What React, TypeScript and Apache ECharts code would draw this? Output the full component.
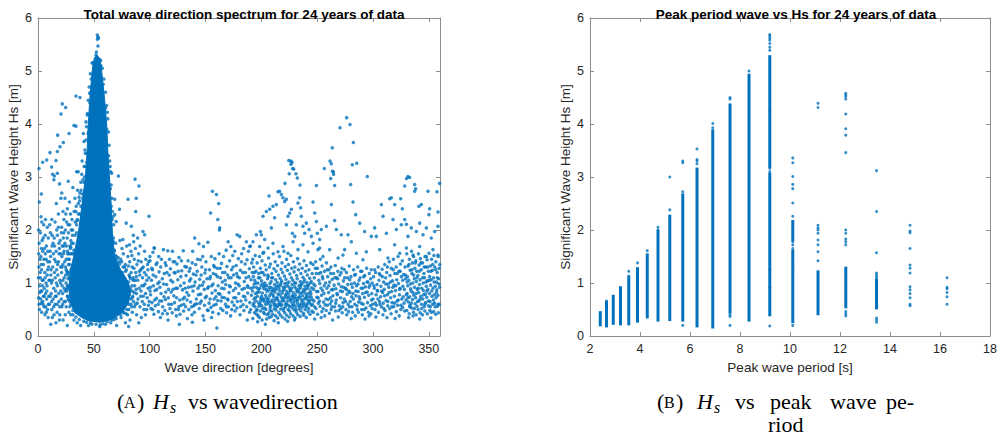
import React, { useEffect, useRef } from 'react';
import * as echarts from 'echarts';

const BLUE = '#0072BD';
const BOX = '#8c8c8c';
const TXT = '#262626';

// ---------- Left chart: Hs vs wave direction ----------
const leftTitle = 'Total wave direction spectrum for 24 years of data';
const leftXName = 'Wave direction [degrees]';
const yName = 'Significant Wave Height Hs [m]';

// dense core of the cloud (outline, [degrees, Hs])
const coreOutline: [number, number][] = [
  [55, 0.26], [45, 0.29], [39, 0.35], [33, 0.44], [29.5, 0.6], [28, 0.8], [28, 1.0], [29, 1.25],
  [32, 1.5], [36.5, 2.0], [39.5, 2.5], [42.5, 3.0], [44, 3.5], [45, 4.0], [46.5, 4.5], [48.5, 5.0],
  [50.5, 5.25], [53, 5.3], [55.5, 5.22], [57, 5.0], [59.5, 4.5], [61.5, 4.0], [62.5, 3.5], [64, 3.0],
  [65.5, 2.5], [66.5, 2.0], [68.5, 1.5], [74, 1.25], [80, 1.05], [83, 0.85], [81, 0.62], [76, 0.46],
  [70, 0.36], [63, 0.29],
];

const coreEdge = [
  28.5, 0.55, 26.5, 0.75, 26.2, 0.95, 27.1, 1.15, 28.1, 1.35, 30.5, 1.55, 31.6, 1.75, 33.2, 1.9,
  34.5, 2.1, 36.1, 2.3, 37.4, 2.55, 38.6, 2.75, 40.2, 2.95, 41.3, 3.2, 42.3, 3.45, 42.9, 3.7,
  43.4, 3.95, 44.2, 4.2, 45, 4.45, 45.8, 4.7, 46.9, 4.95, 48.4, 5.15, 27.6, 0.68, 26.9, 1.08,
  32.1, 1.62, 35.3, 2.18, 39.8, 2.68, 43.6, 3.28, 44.8, 3.82, 46.2, 4.58, 25.4, 0.88, 25.9, 1.22,
  27.2, 1.45, 29.4, 1.68, 30.8, 1.9, 33.9, 2.35, 36.8, 2.62,
  84.5, 0.72, 84.2, 0.95, 82.1, 1.12, 78.5, 1.22, 73.1, 1.36, 70.2, 1.45, 68.4, 1.6, 67.5, 1.85,
  67.8, 2.1, 66.6, 2.35, 66.2, 2.6, 65.5, 2.85, 65.1, 3.1, 64.2, 3.3, 63.7, 3.6, 63.1, 3.85,
  62.6, 4.1, 61.4, 4.35, 60.5, 4.6, 59, 4.85, 57.6, 5.05, 56.2, 5.2, 83.3, 0.6, 76.2, 1.3,
  69.3, 1.52, 67.1, 2.25, 64.6, 3.2, 62.1, 4.22, 86.1, 0.82, 85.4, 1.05, 81.3, 0.5, 78.9, 0.42,
  71.8, 1.48, 74.9, 1.4, 69.6, 1.75,
  34, 0.36, 37, 0.31, 41, 0.28, 47, 0.25, 52, 0.22, 58, 0.23, 62, 0.27, 66, 0.3, 70, 0.33,
  74, 0.4, 77, 0.44, 43.5, 0.26, 55.6, 0.21, 68.2, 0.31, 31.2, 0.48, 79.5, 0.5,
];

const spikeTop = [
  53.1, 5.68, 53.6, 5.64, 54.2, 5.62, 53.2, 5.6, 53.7, 5.47, 52.3, 5.36, 51.9, 5.3, 50, 5.12,
  49.4, 5.16, 56.4, 5.1, 55, 5.22, 47.6, 4.85, 58.4, 4.75, 46.5, 4.4, 60.5, 4.3, 45.3, 3.85,
  61.6, 3.9, 44.2, 3.45, 63.2, 3.4, 41.6, 3.0, 64.8, 2.78, 65.6, 2.45, 66.4, 2.2, 67.6, 1.78,
  68.3, 1.62, 39.5, 3.3, 41, 2.9, 40, 2.6, 42.5, 3.2, 37.5, 2.7, 38.4, 2.45, 35.2, 2.2,
];

const westPoints = [
  1.2, 2.53, 3.4, 2.15, 5.1, 2.1, 8.3, 2.05, 2.2, 1.95, 6.4, 1.9, 9.2, 1.85, 1.1, 1.75,
  4.3, 1.6, 7.5, 1.7, 2.6, 1.5, 5.3, 1.45, 8.7, 1.4, 0.8, 1.3, 3.2, 1.25, 6.1, 1.2, 9.5, 1.3,
  2.1, 1.1, 4.6, 1.05, 7.2, 1.0, 1.4, 0.95, 5.6, 0.9, 8.1, 0.95, 3.5, 0.85, 6.8, 0.8, 9.6, 0.75,
  2.4, 0.7, 4.2, 0.65, 7.7, 0.7, 0.9, 0.6, 5.4, 0.55, 8.5, 0.5, 3.3, 0.45, 6.2, 0.4, 9.1, 0.35,
  2.8, 1.35, 6.6, 1.55, 3.7, 1.8, 0.5, 2.0, 8.2, 1.15, 4.1, 0.95, 7.4, 0.45, 10.2, 0.6,
  3.0, 2.68, 0.9, 3.16, 1.6, 0.82, 0.6, 0.72, 2.9, 0.62, 1.9, 1.2, 5.8, 1.65, 4.8, 0.75,
  13.1, 3.05, 14.2, 2.95, 19.3, 2.87, 12.4, 2.2, 15.3, 2.15, 18.2, 2.05, 11.1, 1.95, 14.5, 1.85,
  17.4, 1.9, 19.8, 1.8, 12.6, 1.7, 16.2, 1.6, 19.1, 1.65, 11.3, 1.5, 14.8, 1.45, 18.4, 1.4,
  13.2, 1.3, 16.7, 1.25, 20.3, 1.3, 11.5, 1.15, 15.4, 1.1, 19.6, 1.05, 12.1, 1.0, 17.3, 0.95,
  14.1, 0.9, 20.4, 0.85, 11.8, 0.8, 16.3, 0.75, 13.6, 0.7, 18.7, 0.65, 15.2, 0.6, 12.3, 0.5,
  19.4, 0.55, 17.1, 0.45, 14.4, 0.4, 16.1, 0.25, 19.2, 0.3, 11.4, 0.22, 13.8, 1.55, 17.6, 1.35,
  15.7, 0.85, 20.1, 1.55, 18.3, 2.3, 16.4, 2.5, 20.5, 2.6, 12.8, 0.35, 10.6, 1.05, 10.9, 1.6,
  21.3, 2.7, 24.2, 2.6, 27.1, 2.92, 28.2, 2.53, 26.3, 2.4, 22.4, 2.35, 29.1, 2.3, 23.2, 2.2,
  25.6, 2.15, 28.4, 2.1, 21.2, 2.05, 24.5, 2.0, 27.3, 1.95, 22.6, 1.85, 26.1, 1.85, 29.4, 1.8,
  21.7, 1.7, 24.1, 1.75, 28.6, 1.7, 23.3, 1.6, 26.5, 1.6, 29.2, 1.55, 21.4, 1.5, 25.2, 1.45,
  28.1, 1.45, 22.2, 1.35, 27.4, 1.35, 24.6, 1.3, 29.6, 1.25, 21.1, 1.2, 26.2, 1.2, 23.5, 1.1,
  28.3, 1.1, 25.1, 1.0, 21.6, 0.95, 27.2, 0.95, 24.3, 0.85, 29.5, 0.85, 22.1, 0.8, 26.4, 0.75,
  23.4, 0.65, 28.5, 0.65, 25.3, 0.55, 21.3, 0.55, 27.6, 0.45, 24.4, 0.4, 29.3, 0.4, 22.5, 0.3,
  26.2, 0.2, 25.4, 1.7, 23.1, 1.95, 29.8, 2.0, 22.3, 1.05, 27.8, 1.55, 24.8, 1.15, 26.6, 0.9,
  31.2, 2.8, 33.1, 2.6, 35.4, 2.75, 34.2, 2.45, 32.3, 2.35, 36.1, 2.5, 38.3, 2.9, 37.2, 2.3,
  30.4, 2.2, 33.4, 2.15, 31.1, 2.0, 39.2, 3.05, 32.2, 0.3, 35.1, 0.25, 38.2, 0.2, 31.3, 0.4,
  45.2, 0.2, 55.3, 0.18, 60.4, 0.22, 65.1, 0.25, 48.3, 0.22, 30.2, 1.75, 31.6, 1.55, 34.5, 1.95,
  0.4, 1.1, 1.3, 0.5, 1.8, 1.45, 2.5, 0.85, 3.1, 1.65, 3.8, 1.05, 4.5, 0.6, 4.9, 1.35,
  5.6, 0.75, 6.3, 1.1, 6.9, 0.55, 7.3, 1.45, 7.9, 0.85, 8.6, 1.25, 9.3, 0.6, 9.8, 1.05,
  10.4, 1.4, 10.9, 0.75, 11.6, 1.25, 12.2, 0.65, 12.9, 1.05, 13.5, 1.75, 14.1, 0.55, 14.7, 1.2,
  15.4, 0.75, 15.9, 1.4, 16.5, 1.0, 17.2, 0.6, 17.8, 1.15, 18.5, 0.8, 18.9, 1.55, 19.5, 0.4,
  20.2, 1.0, 20.8, 0.7, 21.5, 1.3, 22.1, 0.6, 22.8, 1.55, 23.4, 0.9, 23.9, 1.4, 24.6, 0.65,
  25.2, 1.25, 25.8, 0.85, 26.5, 1.55, 27.1, 0.7, 27.7, 1.2, 28.3, 0.9, 28.9, 1.65, 29.4, 0.6,
  26.9, 2.1, 24.9, 2.3, 22.9, 1.7, 20.9, 1.95, 18.8, 1.75, 16.8, 2.0, 14.9, 1.7, 12.7, 1.9,
  10.5, 2.1, 8.8, 1.6, 6.7, 2.2, 4.6, 1.85, 2.7, 2.25, 0.7, 1.55,
];

const eastPoints = [
  70.2, 1.5, 72.3, 1.4, 74.1, 1.45, 76.4, 1.55, 78.2, 1.35, 80.5, 1.5, 82.1, 1.4, 84.3, 1.3,
  86.2, 1.45, 88.6, 1.35, 90.1, 1.55, 92.4, 1.4, 94.2, 1.3, 96.5, 1.45, 98.1, 1.35, 100.2, 1.5,
  71.4, 1.25, 73.2, 1.15, 75.6, 1.2, 77.3, 1.1, 79.1, 1.25, 81.6, 1.15, 83.4, 1.2, 85.2, 1.1,
  87.5, 1.2, 89.3, 1.05, 91.2, 1.15, 93.6, 1.1, 95.3, 1.2, 97.4, 1.05, 99.3, 1.1,
  80.4, 0.95, 82.6, 0.9, 84.4, 0.85, 86.5, 0.95, 88.2, 0.8, 90.6, 0.9, 92.2, 0.85, 94.5, 0.95,
  96.3, 0.8, 98.6, 0.9, 100.4, 0.85, 79.7, 0.7, 81.3, 0.6, 83.2, 0.7, 85.6, 0.65, 87.4, 0.6,
  89.5, 0.7, 91.3, 0.55, 93.4, 0.65, 95.2, 0.6, 97.3, 0.5, 99.6, 0.65, 76.3, 0.45, 80.2, 0.4,
  84.5, 0.45, 88.3, 0.4, 92.6, 0.35, 96.2, 0.4, 74.4, 0.35, 82.4, 0.3, 90.2, 0.25, 78.3, 0.25,
  86.4, 0.55, 94.3, 0.75, 98.4, 1.25, 75.2, 1.65, 79.4, 1.7, 83.3, 1.6, 87.2, 1.65, 91.5, 1.7,
  95.4, 1.6, 73.3, 1.8, 85.4, 1.9, 89.2, 1.85, 70.4, 0.2, 81.2, 0.18, 77.5, 1.3, 81.8, 0.78,
  81.1, 1.02, 83.8, 0.55, 85.9, 1.28, 87.9, 0.88, 89.8, 1.42, 91.9, 0.75, 93.1, 1.28, 95.8, 0.98,
  97.8, 0.72, 99.1, 1.4, 82.9, 1.08, 84.9, 0.75, 86.8, 1.05, 88.9, 0.62, 90.8, 1.22, 92.9, 0.95,
  94.8, 0.5, 96.9, 1.15, 98.9, 0.58, 78.8, 0.88, 80.9, 1.32, 84.1, 1.52, 88.1, 1.12, 92.1, 1.25,
];

const band100to190 = [
  100.3, 1.42, 101.6, 1.05, 100.8, 0.78, 101.2, 0.52, 102.5, 1.25, 103.4, 0.95, 102.1, 0.63, 103.8, 0.41, 102.9, 1.58,
  104.2, 1.66, 105.5, 1.12, 104.7, 0.86, 105.1, 0.57, 106.6, 1.38, 107.3, 0.99, 106.1, 0.71, 107.8, 0.46,
  108.4, 1.21, 109.2, 0.92, 108.9, 0.66, 109.6, 0.35, 108.1, 1.5, 110.5, 1.45, 111.3, 1.08, 110.2, 0.8, 111.7, 0.55,
  112.3, 1.63, 113.1, 1.18, 112.8, 0.74, 113.6, 0.48, 114.7, 1.33, 115.2, 0.97, 114.1, 0.69, 115.8, 0.42,
  116.2, 1.61, 117.5, 1.15, 116.9, 0.88, 117.1, 0.6, 116.5, 0.3, 118.6, 1.27, 119.3, 0.83, 118.2, 0.52,
  120.4, 1.6, 121.1, 1.4, 120.7, 1.02, 121.6, 0.76, 120.2, 0.44, 122.8, 1.19, 123.4, 0.9, 122.3, 0.63, 123.9, 0.38,
  124.5, 1.36, 125.2, 1.06, 124.1, 0.72, 125.7, 0.5, 126.3, 1.48, 127.6, 0.95, 126.9, 0.68, 127.2, 0.41, 126.6, 0.22,
  128.7, 1.23, 129.4, 0.87, 128.2, 0.58, 130.1, 1.61, 131.5, 1.31, 130.8, 1.0, 131.2, 0.73, 130.4, 0.47,
  132.6, 1.14, 133.3, 0.82, 132.2, 0.55, 133.8, 0.33, 134.4, 1.42, 135.7, 1.04, 134.9, 0.77, 135.1, 0.5,
  136.2, 1.28, 137.4, 0.93, 136.7, 0.64, 137.9, 0.4, 138.5, 1.6, 139.1, 1.17, 138.8, 0.85, 139.6, 0.57, 138.3, 0.26,
  140.3, 1.85, 141.2, 1.35, 140.7, 1.02, 141.8, 0.7, 140.1, 0.45, 142.6, 1.22, 143.3, 0.9, 142.2, 0.61,
  144.1, 1.74, 145.4, 1.44, 144.8, 1.07, 145.6, 0.79, 144.4, 0.52, 146.7, 1.3, 147.2, 0.96, 146.3, 0.66, 147.8, 0.38,
  148.2, 1.69, 149.5, 1.19, 148.9, 0.88, 149.1, 0.58, 148.6, 0.3, 150.4, 1.4, 151.3, 1.08, 150.8, 0.75, 151.7, 0.49,
  152.1, 1.77, 153.6, 1.25, 152.7, 0.93, 153.2, 0.62, 154.6, 2.32, 155.2, 1.5, 154.3, 1.12, 155.8, 0.81, 154.9, 0.54, 155.4, 0.35,
  156.2, 2.73, 157.3, 1.33, 156.8, 0.98, 157.7, 0.7, 156.5, 0.45, 158.4, 1.46, 159.1, 1.16, 158.8, 0.86, 159.6, 0.6,
  159.8, 2.67, 160.5, 1.28, 161.3, 0.95, 160.9, 0.67, 161.7, 0.42, 160.2, 0.15,
  161.8, 2.5, 161.0, 2.2, 162.7, 2.04, 162.5, 2.0, 162.2, 1.55, 163.4, 1.1, 162.9, 0.79, 163.7, 0.52,
  164.3, 1.37, 165.1, 1.02, 164.8, 0.73, 165.6, 0.48, 166.2, 1.5, 167.4, 1.2, 166.7, 0.89, 167.9, 0.6,
  168.5, 1.62, 169.2, 1.31, 168.1, 0.97, 169.7, 0.7, 168.9, 0.44, 170.3, 1.78, 171.6, 1.42, 170.8, 1.1, 171.1, 0.82, 170.5, 0.55,
  172.7, 1.69, 173.3, 1.25, 172.2, 0.93, 173.8, 0.64, 172.5, 0.38, 174.4, 1.52, 175.1, 1.15, 174.9, 0.86, 175.6, 0.58,
  176.2, 1.6, 177.5, 1.33, 176.8, 1.0, 177.1, 0.72, 176.5, 0.47, 178.3, 1.91, 179.4, 1.46, 178.7, 1.12, 179.8, 0.8, 178.1, 0.53,
  180.6, 1.88, 181.2, 1.24, 180.2, 0.95, 181.7, 0.66, 180.9, 0.4, 182.4, 1.55, 183.3, 1.2, 182.8, 0.88, 183.6, 0.59,
  184.1, 1.65, 185.5, 1.36, 184.7, 1.03, 185.2, 0.74, 184.4, 0.48, 186.6, 1.78, 187.2, 1.44, 186.3, 1.1, 187.8, 0.81, 186.9, 0.55, 187.4, 0.3,
  188.5, 1.6, 189.3, 1.27, 188.1, 0.92, 189.7, 0.63, 190.2, 1.7, 191.4, 1.38, 190.8, 1.06, 191.1, 0.77, 190.5, 0.5,
  100.7, 0.92, 101.9, 1.28, 102.7, 0.5, 103.1, 1.15, 104.5, 0.68, 105.8, 1.35, 106.4, 0.88, 107.6, 0.6,
  108.6, 1.02, 109.9, 1.3, 110.8, 0.66, 111.5, 0.42, 112.5, 0.98, 113.9, 1.38, 114.4, 0.83, 115.5, 1.2,
  116.7, 0.72, 117.8, 1.45, 118.9, 1.05, 119.6, 0.6, 120.9, 0.88, 121.9, 1.2, 122.5, 1.4, 123.2, 0.5,
  124.8, 0.9, 125.5, 1.22, 126.1, 0.55, 127.9, 1.12, 128.4, 1.42, 129.8, 0.7, 130.6, 0.6, 131.8, 0.9,
  132.9, 1.3, 133.5, 0.68, 134.7, 0.92, 135.4, 1.22, 136.9, 1.08, 137.6, 0.55, 138.1, 1.38, 139.8, 0.95,
  140.5, 0.6, 141.5, 1.15, 142.9, 1.45, 143.6, 0.78, 144.6, 0.95, 145.1, 0.62, 146.1, 1.15, 147.5, 1.5,
  148.4, 1.02, 149.8, 0.72, 150.1, 1.25, 151.9, 0.9, 152.4, 0.48, 153.9, 1.08, 154.1, 0.7, 155.6, 0.95,
  156.9, 1.18, 157.5, 0.58, 158.1, 1.3, 159.3, 0.74, 160.7, 1.12, 161.5, 0.8, 163.1, 1.28, 163.9, 0.66,
  164.5, 0.9, 165.3, 1.2, 166.9, 0.72, 167.6, 1.05, 168.7, 0.55, 169.9, 1.15, 170.1, 0.68, 171.4, 0.95,
  172.9, 1.1, 173.5, 0.5, 174.7, 1.3, 175.3, 0.72, 176.9, 0.9, 177.9, 1.18, 178.5, 0.65, 179.1, 0.98,
  180.4, 1.1, 181.5, 0.55, 182.1, 1.4, 183.9, 0.75, 184.9, 0.9, 185.7, 1.2, 186.1, 0.68, 187.6, 0.95,
  188.8, 1.12, 189.5, 0.45, 190.6, 0.9, 191.8, 1.2,
];

const band190to246 = [
  192.3, 1.45, 193.1, 1.3, 192.8, 1.12, 193.6, 0.98, 192.1, 0.85, 193.4, 0.7, 192.6, 0.58, 193.9, 0.44, 192.4, 0.33,
  194.5, 1.52, 195.2, 1.22, 194.1, 1.05, 195.7, 0.92, 194.8, 0.8, 195.4, 0.66, 194.3, 0.55, 195.9, 0.41,
  196.2, 1.38, 197.6, 1.18, 196.9, 1.0, 197.3, 0.88, 196.5, 0.75, 197.8, 0.62, 196.1, 0.5, 197.1, 0.38, 196.7, 0.27,
  198.4, 1.5, 199.2, 1.28, 198.7, 1.1, 199.8, 0.96, 198.1, 0.83, 199.5, 0.71, 198.9, 0.6, 199.1, 0.47, 198.3, 0.35,
  200.6, 1.42, 201.3, 1.2, 200.2, 1.04, 201.7, 0.93, 200.9, 0.81, 201.1, 0.69, 200.4, 0.57, 201.9, 0.45, 200.7, 0.3,
  202.1, 1.58, 203.5, 1.34, 202.8, 1.15, 203.2, 1.0, 202.4, 0.89, 203.8, 0.77, 202.6, 0.65, 203.1, 0.53, 202.9, 0.42, 203.6, 0.22,
  204.3, 1.25, 205.6, 1.08, 204.9, 0.95, 205.2, 0.84, 204.6, 0.72, 205.8, 0.61, 204.1, 0.5, 205.4, 0.4, 204.7, 0.32,
  206.5, 1.47, 207.2, 1.3, 206.1, 1.12, 207.7, 0.99, 206.8, 0.87, 207.4, 0.76, 206.3, 0.64, 207.9, 0.54, 206.6, 0.43, 207.1, 0.35,
  208.2, 1.36, 209.4, 1.18, 208.8, 1.03, 209.1, 0.91, 208.5, 0.8, 209.7, 0.68, 208.3, 0.58, 209.3, 0.47, 208.9, 0.37,
  210.7, 1.55, 211.3, 1.27, 210.2, 1.1, 211.8, 0.97, 210.5, 0.86, 211.1, 0.74, 210.9, 0.63, 211.6, 0.52, 210.3, 0.41, 211.4, 0.29,
  212.4, 1.4, 213.2, 1.22, 212.9, 1.06, 213.7, 0.94, 212.1, 0.83, 213.5, 0.71, 212.6, 0.6, 213.1, 0.49, 212.8, 0.38,
  214.6, 1.33, 215.3, 1.15, 214.2, 1.01, 215.8, 0.9, 214.9, 0.79, 215.1, 0.67, 214.4, 0.56, 215.6, 0.45, 214.7, 0.34, 215.2, 0.25,
  216.3, 1.5, 217.7, 1.26, 216.8, 1.09, 217.2, 0.96, 216.5, 0.85, 217.9, 0.73, 216.1, 0.62, 217.4, 0.51, 216.9, 0.4,
  218.5, 1.38, 219.1, 1.2, 218.2, 1.04, 219.6, 0.92, 218.8, 0.81, 219.3, 0.7, 218.4, 0.59, 219.8, 0.48, 218.7, 0.36,
  220.2, 1.6, 221.4, 1.31, 220.7, 1.13, 221.1, 0.99, 220.5, 0.88, 221.8, 0.77, 220.3, 0.66, 221.6, 0.55, 220.9, 0.44, 221.2, 0.32,
  222.6, 1.45, 223.3, 1.24, 222.1, 1.07, 223.7, 0.95, 222.9, 0.84, 223.1, 0.72, 222.4, 0.61, 223.9, 0.5, 222.7, 0.39, 223.5, 0.28,
  224.3, 1.35, 225.5, 1.17, 224.8, 1.02, 225.1, 0.91, 224.5, 0.8, 225.8, 0.69, 224.2, 0.58, 225.3, 0.47, 224.9, 0.36,
  226.4, 1.52, 227.2, 1.28, 226.9, 1.1, 227.6, 0.97, 226.1, 0.86, 227.4, 0.75, 226.7, 0.64, 227.9, 0.53, 226.3, 0.42,
  228.7, 1.4, 229.3, 1.21, 228.2, 1.05, 229.8, 0.93, 228.5, 0.82, 229.1, 0.71, 228.9, 0.6, 229.5, 0.49, 228.4, 0.38, 229.7, 0.3,
  230.1, 1.3, 231.6, 1.14, 230.8, 1.0, 231.2, 0.89, 230.4, 0.78, 231.9, 0.67, 230.6, 0.56, 231.4, 0.45, 230.3, 0.34,
  232.5, 1.46, 233.2, 1.25, 232.1, 1.08, 233.7, 0.95, 232.8, 0.84, 233.4, 0.73, 232.3, 0.62, 233.9, 0.51, 232.6, 0.4,
  234.3, 1.36, 235.4, 1.18, 234.9, 1.03, 235.1, 0.91, 234.6, 0.8, 235.7, 0.69, 234.2, 0.58, 235.5, 0.47, 234.8, 0.37,
  236.6, 1.28, 237.3, 1.11, 236.2, 0.98, 237.8, 0.87, 236.9, 0.76, 237.1, 0.65, 236.4, 0.54, 237.6, 0.43,
  238.2, 1.42, 239.5, 1.22, 238.7, 1.06, 239.1, 0.94, 238.4, 0.83, 239.8, 0.72, 238.9, 0.61, 239.3, 0.5, 238.1, 0.39,
  240.4, 1.33, 241.2, 1.15, 240.8, 1.01, 241.7, 0.9, 240.1, 0.79, 241.5, 0.68, 240.6, 0.57, 241.9, 0.46, 240.3, 0.35,
  242.6, 1.25, 243.3, 1.09, 242.1, 0.96, 243.8, 0.85, 242.9, 0.74, 243.1, 0.63, 242.4, 0.52, 243.6, 0.41,
  244.2, 1.38, 245.5, 1.18, 244.7, 1.03, 245.1, 0.91, 244.4, 0.8, 245.8, 0.69, 244.9, 0.58, 245.3, 0.47,
  192.9, 0.92, 193.3, 0.62, 193.8, 1.2, 194.6, 0.72, 195.1, 1.0, 195.6, 0.48, 196.4, 0.82, 197.4, 1.1,
  197.9, 0.56, 198.6, 0.9, 199.4, 0.66, 199.9, 1.2, 200.3, 0.75, 201.5, 0.98, 201.2, 0.52, 202.3, 0.7,
  203.4, 0.95, 203.9, 0.6, 204.4, 0.88, 205.1, 0.66, 205.9, 1.15, 206.4, 0.7, 207.5, 0.92, 207.8, 0.48,
  208.4, 0.64, 209.6, 0.85, 209.2, 1.1, 210.4, 0.78, 211.5, 0.58, 211.9, 0.9, 212.3, 0.68, 213.3, 0.88,
  213.8, 0.55, 214.3, 0.72, 215.4, 0.95, 215.9, 0.6, 216.6, 0.78, 217.3, 0.58, 217.6, 1.0, 218.3, 0.66,
  219.4, 0.86, 219.9, 0.52, 220.6, 0.72, 221.5, 0.93, 221.9, 0.6, 222.3, 0.79, 223.6, 0.66, 223.2, 1.0,
  224.6, 0.74, 225.4, 0.55, 225.9, 0.86, 226.6, 0.69, 227.1, 0.9, 227.8, 0.58, 228.3, 0.76, 229.4, 0.65,
  229.9, 1.0, 230.5, 0.72, 231.1, 0.5, 231.8, 0.84, 232.4, 0.68, 233.5, 0.88, 233.8, 0.56, 234.4, 0.74,
  235.3, 0.96, 235.9, 0.62, 236.3, 0.82, 237.5, 0.58, 237.9, 1.02, 238.6, 0.7, 239.6, 0.88, 239.9, 0.55,
  240.7, 0.74, 241.4, 0.95, 241.8, 0.62, 242.3, 0.8, 243.5, 0.68, 243.9, 1.0, 244.6, 0.74, 245.6, 0.6,
];

const band246to330 = [
  246.3, 1.35, 247.4, 1.1, 246.8, 0.88, 247.2, 0.66, 246.5, 0.45, 247.8, 0.32, 248.6, 1.4, 249.2, 1.18, 248.1, 0.95, 249.7, 0.73, 248.9, 0.52,
  250.2, 1.28, 251.5, 1.05, 250.7, 0.84, 251.1, 0.62, 250.4, 0.41, 252.8, 1.45, 253.3, 1.2, 252.3, 0.99, 253.9, 0.77, 252.6, 0.56, 253.6, 0.35,
  254.4, 1.32, 255.1, 1.08, 254.9, 0.86, 255.7, 0.64, 254.2, 0.46, 256.5, 1.22, 257.6, 1.0, 256.1, 0.8, 257.2, 0.59, 256.8, 0.38,
  258.3, 1.38, 259.4, 1.12, 258.7, 0.9, 259.9, 0.69, 258.1, 0.48, 260.6, 1.25, 261.2, 1.02, 260.2, 0.82, 261.7, 0.61, 260.9, 0.43,
  262.3, 1.3, 263.5, 1.07, 262.8, 0.87, 263.1, 0.66, 262.5, 0.5, 263.8, 0.3, 264.7, 1.18, 265.2, 0.96, 264.1, 0.76, 265.6, 0.55,
  266.2, 1.33, 267.4, 1.1, 266.8, 0.89, 267.1, 0.68, 266.5, 0.47, 268.5, 1.22, 269.3, 0.98, 268.1, 0.78, 269.8, 0.57, 268.9, 0.36,
  270.4, 1.15, 271.6, 0.93, 270.9, 0.72, 271.2, 0.52, 272.1, 1.28, 273.5, 1.04, 272.7, 0.84, 273.2, 0.63, 272.4, 0.44,
  274.6, 1.1, 275.3, 0.9, 274.2, 0.7, 275.8, 0.5, 276.3, 1.2, 277.4, 0.97, 276.8, 0.79, 277.7, 0.6, 276.5, 0.4,
  278.7, 1.32, 279.2, 1.06, 278.4, 0.85, 279.6, 0.65, 278.1, 0.46, 280.2, 1.12, 281.5, 0.92, 280.8, 0.74, 281.1, 0.55, 280.5, 0.33,
  282.6, 1.25, 283.3, 1.0, 282.1, 0.8, 283.7, 0.6, 284.4, 1.16, 285.2, 0.95, 284.8, 0.76, 285.6, 0.57, 284.1, 0.38,
  286.3, 1.3, 287.5, 1.05, 286.7, 0.84, 287.1, 0.64, 286.9, 0.45, 288.5, 1.1, 289.3, 0.9, 288.2, 0.7, 289.8, 0.5,
  290.1, 1.22, 291.4, 0.99, 290.7, 0.8, 291.2, 0.6, 290.4, 0.4, 292.6, 1.14, 293.2, 0.93, 292.3, 0.73, 293.7, 0.53, 292.9, 0.32,
  294.3, 1.28, 295.5, 1.02, 294.8, 0.83, 295.1, 0.63, 296.7, 1.18, 297.2, 0.96, 296.2, 0.77, 297.6, 0.57, 296.5, 0.38,
  298.4, 1.25, 299.3, 1.0, 298.9, 0.8, 299.7, 0.6, 298.1, 0.42, 300.5, 1.12, 301.2, 0.9, 300.1, 0.7, 301.8, 0.5,
  302.3, 1.2, 303.6, 0.97, 302.8, 0.78, 303.1, 0.58, 302.6, 0.36, 304.7, 1.3, 305.3, 1.05, 304.2, 0.85, 305.8, 0.65, 304.9, 0.45,
  306.4, 1.15, 307.1, 0.94, 306.8, 0.74, 307.5, 0.55, 308.2, 1.26, 309.4, 1.02, 308.6, 0.82, 309.1, 0.62, 308.9, 0.4,
  310.5, 1.35, 311.3, 1.1, 310.1, 0.88, 311.7, 0.67, 310.8, 0.48, 312.3, 1.2, 313.6, 0.98, 312.8, 0.78, 313.2, 0.57, 312.5, 0.35,
  314.6, 1.4, 315.2, 1.14, 314.1, 0.92, 315.8, 0.72, 314.9, 0.52, 316.4, 1.28, 317.5, 1.04, 316.7, 0.84, 317.1, 0.63, 316.2, 0.42,
  318.3, 1.45, 319.6, 1.18, 318.8, 0.96, 319.2, 0.75, 318.5, 0.55, 319.8, 0.33, 320.7, 1.3, 321.3, 1.06, 320.2, 0.86, 321.6, 0.66, 320.9, 0.46,
  322.4, 1.5, 323.2, 1.22, 322.8, 0.99, 323.7, 0.78, 322.1, 0.58, 323.5, 0.38, 324.6, 1.36, 325.4, 1.12, 324.2, 0.9, 325.8, 0.7, 324.9, 0.5,
  326.3, 1.42, 327.5, 1.16, 326.8, 0.94, 327.1, 0.74, 326.5, 0.54, 328.7, 1.3, 329.2, 1.08, 328.1, 0.88, 329.6, 0.68, 328.4, 0.47,
  246.9, 0.98, 247.6, 0.55, 248.4, 1.28, 249.5, 0.84, 250.9, 0.72, 251.7, 1.18, 252.1, 0.66, 253.4, 0.9,
  254.7, 1.12, 255.4, 0.52, 256.3, 0.95, 257.9, 0.7, 258.9, 1.25, 259.2, 0.58, 260.4, 0.95, 261.9, 0.72,
  262.1, 1.18, 263.3, 0.55, 264.4, 0.88, 265.8, 1.1, 266.6, 0.62, 267.7, 0.8, 268.3, 1.08, 269.5, 0.48,
  270.7, 0.85, 271.4, 1.2, 272.9, 0.55, 273.7, 0.92, 274.4, 1.25, 275.5, 0.65, 276.1, 0.88, 277.2, 1.1,
  278.9, 0.55, 279.4, 0.82, 280.6, 0.98, 281.8, 0.45, 282.4, 0.7, 283.5, 1.15, 284.6, 0.85, 285.9, 0.5,
  286.5, 0.98, 287.7, 0.74, 288.9, 1.22, 289.5, 0.62, 290.9, 0.9, 291.7, 1.12, 292.1, 0.5, 293.4, 0.82,
  294.6, 1.02, 295.8, 0.45, 296.4, 0.92, 297.9, 1.08, 298.6, 0.68, 299.2, 0.52, 300.8, 0.95, 301.5, 1.25,
  302.1, 0.62, 303.8, 0.86, 304.4, 0.7, 305.6, 1.18, 306.2, 0.6, 307.8, 0.85, 308.4, 1.12, 309.7, 0.52,
  310.3, 0.76, 311.5, 0.98, 312.9, 1.3, 313.4, 0.65, 314.3, 0.82, 315.6, 1.02, 316.9, 0.55, 317.8, 0.92,
  318.1, 1.25, 319.4, 0.62, 320.4, 0.95, 321.8, 1.18, 322.6, 0.68, 323.9, 0.88, 324.4, 1.22, 325.1, 0.58,
  326.6, 1.05, 327.8, 0.62, 328.9, 1.15, 329.9, 0.78,
];

const band330to360 = [
  330.2, 1.55, 331.4, 1.32, 330.8, 1.12, 331.1, 0.95, 330.5, 0.8, 331.7, 0.64, 330.3, 0.48, 331.9, 0.35,
  332.6, 1.45, 333.3, 1.24, 332.1, 1.05, 333.7, 0.89, 332.9, 0.74, 333.1, 0.58, 332.4, 0.42,
  334.5, 1.6, 335.2, 1.38, 334.8, 1.18, 335.6, 1.0, 334.1, 0.85, 335.4, 0.69, 334.7, 0.53, 335.9, 0.38,
  336.3, 1.5, 337.5, 1.28, 336.9, 1.08, 337.2, 0.92, 336.6, 0.77, 337.8, 0.61, 336.2, 0.45,
  338.4, 1.42, 339.1, 1.22, 338.8, 1.03, 339.7, 0.88, 338.2, 0.72, 339.4, 0.56, 338.6, 0.4,
  340.7, 1.55, 341.3, 1.34, 340.2, 1.14, 341.6, 0.97, 340.9, 0.82, 341.1, 0.66, 340.4, 0.5, 341.8, 0.32,
  342.5, 1.46, 343.2, 1.25, 342.1, 1.06, 343.7, 0.9, 342.8, 0.75, 343.4, 0.6, 342.3, 0.44,
  344.3, 1.38, 345.6, 1.18, 344.9, 1.0, 345.1, 0.86, 344.6, 0.7, 345.8, 0.55, 344.2, 0.4,
  346.6, 1.5, 347.3, 1.3, 346.2, 1.1, 347.7, 0.94, 346.8, 0.79, 347.1, 0.63, 346.4, 0.47,
  348.4, 1.44, 349.5, 1.22, 348.8, 1.04, 349.2, 0.88, 348.1, 0.73, 349.7, 0.57, 348.6, 0.42,
  350.2, 1.56, 351.3, 1.32, 350.7, 1.12, 351.6, 0.96, 350.5, 0.8, 351.1, 0.65, 350.9, 0.48, 351.8, 0.34,
  352.5, 1.45, 353.2, 1.24, 352.1, 1.06, 353.7, 0.9, 352.8, 0.75, 353.4, 0.6, 352.3, 0.45,
  354.6, 1.52, 355.3, 1.3, 354.2, 1.1, 355.8, 0.94, 354.9, 0.78, 355.1, 0.62, 354.4, 0.46,
  356.3, 1.4, 357.5, 1.2, 356.8, 1.02, 357.2, 0.87, 356.5, 0.72, 357.7, 0.56, 356.1, 0.41,
  358.4, 1.5, 359.2, 1.28, 358.8, 1.08, 359.6, 0.92, 358.1, 0.77, 359.4, 0.6, 358.6, 0.44,
  330.6, 1.02, 331.3, 0.72, 332.2, 1.35, 332.8, 0.55, 333.5, 0.98, 334.3, 0.62, 334.9, 1.25, 335.7, 0.82,
  336.4, 1.15, 337.1, 0.52, 337.9, 1.38, 338.7, 0.8, 339.3, 1.1, 339.9, 0.65, 340.5, 0.9, 341.4, 1.22,
  342.2, 0.7, 342.9, 1.38, 343.6, 0.52, 344.4, 1.1, 345.3, 0.78, 345.9, 1.3, 346.5, 0.6, 347.4, 1.02,
  348.2, 0.85, 348.9, 1.3, 349.6, 0.66, 350.4, 1.05, 351.4, 0.55, 351.9, 1.22, 352.6, 0.85, 353.5, 1.35,
  354.1, 0.68, 354.7, 1.02, 355.6, 0.55, 356.2, 1.25, 356.9, 0.82, 357.6, 1.1, 358.3, 0.6, 359.1, 0.98,
  359.8, 1.35,
];

const upperPoints = [
  21.8, 4.38, 20.6, 4.19, 24.8, 4.31, 34, 4.53, 37.6, 4.5, 32.2, 3.97, 34, 3.96, 27.8, 3.82,
  17.6, 3.79, 22.7, 3.65, 19.7, 3.57, 17.3, 3.48, 10.7, 3.46, 7.8, 3.32, 4.2, 3.28, 16.1, 3.31,
  12.2, 3.19, 14.6, 3.02, 17.3, 3.07, 34.6, 3.1, 36, 3.1, 40.6, 3.82, 41.2, 3.67, 43, 4.04,
  44.2, 4.17, 42, 3.51, 48, 4.7, 47.2, 4.6,
  66, 3.07, 72, 3.02, 86.9, 2.96, 68.7, 2.58, 80.6, 2.58, 90.4, 2.83, 88, 2.6, 87.5, 2.35,
  79, 2.13, 83.6, 2.07, 68.7, 2.29, 70, 2.16, 73, 2.39, 94, 1.97, 95.5, 1.91, 99.4, 2.26,
  85.7, 1.78, 82, 1.72, 76, 1.82, 104, 1.66,
  192.5, 1.78, 195.5, 1.91, 189.6, 1.69, 199.1, 1.97, 200, 1.91, 201.5, 2.26, 203, 1.82,
  204.5, 2.35, 206.9, 2.64, 207.5, 2.39, 209, 2.04, 210.4, 2.45, 211.9, 2.23, 213.4, 2.48,
  214.9, 2.72, 216.4, 2.73, 217.9, 2.67, 219.4, 2.61, 220.9, 2.54, 222.4, 2.58, 222.4, 2.1,
  223.9, 2.26, 225.4, 2.32, 226.9, 2.39, 227.8, 1.94, 229.9, 1.88, 231.3, 2.1, 232.8, 2.51,
  234.3, 2.61, 235.2, 2.42, 235.8, 2.26, 237.3, 2.07, 238.8, 1.94, 240.3, 2.13, 242.7, 2.01,
  244.8, 1.88, 246.3, 2.53, 247.8, 2.32, 249.3, 2.16, 250.1, 1.94, 252.2, 1.82, 253.7, 2.01,
  198.5, 1.69, 201.5, 1.56, 206, 1.66, 210.4, 1.75, 214.9, 1.59, 219.4, 1.69, 223.9, 1.56,
  228.4, 1.78, 232.8, 1.63, 237.3, 1.72, 241.8, 1.59, 246.3, 1.75, 250.7, 1.63,
  224.6, 3.31, 226.4, 3.3, 227.5, 3.28, 226.5, 3.24, 228, 3.16, 229, 3.15, 225, 3.06,
  231, 3.06, 232.2, 2.98, 221.2, 2.88, 234.6, 2.85,
  249.3, 2.84, 262.1, 2.97, 263.6, 3.11, 265.7, 2.84, 280, 2.86, 294.9, 3.01, 262.7, 2.48,
  265.7, 2.18, 284.5, 2.29, 282.1, 2.53, 258.2, 2.07, 267.2, 2.01, 271.6, 1.91, 274.6, 1.63,
  277.6, 1.91, 280.6, 1.78, 288.1, 2.13, 292.5, 1.97, 294, 1.59, 298.5, 1.88, 301.5, 2.04,
  252.2, 1.66, 255.2, 1.5, 261.2, 1.63, 268.7, 1.47, 273.1, 1.53, 285.1, 1.56, 291, 1.44,
  276.4, 4.12, 270.4, 3.93, 279.4, 3.99, 282.4, 3.65, 263.5, 3.55, 281.5, 3.23, 285.4, 3.26,
  261.5, 3.3, 262.6, 3.25, 264.5, 3.1, 264.7, 3.05, 256.4, 3.16,
  307.5, 2.48, 314.9, 2.59, 316.4, 2.61, 319.4, 2.48, 324.8, 2.59, 326.3, 2.4, 328.4, 2.2,
  329.9, 2.11, 328.4, 2.83, 331.3, 3.01, 332.8, 2.99, 330, 2.97, 337.3, 2.86, 338.2, 2.78,
  337.3, 2.73, 341.2, 2.45, 343.3, 2.48, 349.3, 2.73, 350.7, 2.4, 350.1, 2.29, 358.2, 2.34,
  359.7, 2.88, 357.3, 2.72, 309, 2.26, 312, 1.94, 303, 1.88, 317.9, 2.2, 320.9, 2.01,
  325.4, 2.1, 331.3, 1.88, 334.3, 2.04, 338.8, 1.97, 341.8, 2.13, 344.8, 1.91, 347.8, 2.04,
  352.2, 1.85, 355.2, 1.97, 358.2, 2.07, 306, 1.63, 313.4, 1.47, 319.4, 1.72, 323.9, 1.56,
  329.9, 1.66, 335.8, 1.53, 341.8, 1.69, 347.8, 1.5, 353.7, 1.63, 358.2, 1.53,
];

// ---------- Right chart: Hs vs peak period ----------
const rightTitle = 'Peak period wave vs Hs for 24 years of data';
const rightXName = 'Peak wave period [s]';

// continuous runs of points: [period, lowest Hs, highest Hs]
const periodRuns: [number, number, number][] = [
  [2.41, 0.21, 0.44], [2.66, 0.19, 0.63], [2.93, 0.24, 0.75], [3.22, 0.23, 0.91],
  [3.55, 0.23, 1.1], [3.9, 0.28, 1.27], [4.29, 0.36, 1.53], [4.72, 0.3, 1.97],
  [5.19, 0.31, 2.26], [5.71, 0.3, 2.66], [6.28, 0.19, 3.15], [6.91, 0.17, 3.87],
  [7.6, 0.45, 4.36], [8.36, 0.3, 4.92],
  [9.19, 0.4, 0.9], [9.19, 0.93, 1.24], [9.19, 1.27, 3.05], [9.19, 3.2, 4.21], [9.19, 4.25, 5.27],
  [10.11, 0.27, 1.25], [10.11, 1.3, 1.6], [10.11, 1.82, 2.16],
  [11.12, 0.42, 1.21], [12.23, 0.55, 1.28], [13.46, 0.53, 1.06],
];

// isolated points: [period, Hs]
const periodDots = [
  2.66, 0.66, 3.55, 1.13, 3.55, 1.22, 3.9, 1.38, 4.29, 1.61, 4.72, 2.0, 4.72, 2.05,
  5.19, 2.38, 5.19, 3.0, 5.71, 2.72, 5.71, 3.27, 5.71, 3.3, 5.71, 0.2,
  6.28, 3.25, 6.28, 3.3, 6.28, 3.33, 6.28, 3.53, 6.91, 4.01, 6.91, 3.93,
  7.6, 4.5, 7.6, 4.47, 7.6, 0.4, 7.6, 0.37, 7.6, 0.2, 8.36, 5.0,
  9.19, 5.39, 9.19, 5.45, 9.19, 5.52, 9.19, 5.58, 9.19, 5.62, 9.19, 5.66, 9.19, 5.69,
  9.19, 3.1, 9.19, 3.16, 9.19, 0.19,
  10.11, 0.2, 10.11, 1.65, 10.11, 1.72, 10.11, 1.78, 10.11, 2.26, 10.11, 2.51, 10.11, 2.78,
  10.11, 2.86, 10.11, 3.01, 10.11, 3.27, 10.11, 3.36,
  11.12, 1.42, 11.12, 1.59, 11.12, 1.72, 11.12, 1.81, 11.12, 1.94, 11.12, 2.0, 11.12, 2.04,
  11.12, 2.09, 11.12, 4.31, 11.12, 4.39,
  12.23, 0.38, 12.23, 0.42, 12.23, 0.46, 12.23, 1.72, 12.23, 1.78, 12.23, 1.83, 12.23, 1.94,
  12.23, 2.0, 12.23, 3.46, 12.23, 3.79, 12.23, 3.91, 12.23, 4.19, 12.23, 4.47, 12.23, 4.52,
  12.23, 4.55, 12.23, 4.58,
  13.46, 0.26, 13.46, 0.3, 13.46, 0.34, 13.46, 1.11, 13.46, 1.15, 13.46, 1.19, 13.46, 1.57,
  13.46, 2.35, 13.46, 3.12,
  14.8, 0.57, 14.8, 0.6, 14.8, 0.72, 14.8, 0.8, 14.8, 0.87, 14.8, 0.93, 14.8, 1.19, 14.8, 1.28,
  14.8, 1.34, 14.8, 1.65, 14.8, 1.95, 14.8, 1.98, 14.8, 2.09,
  16.28, 0.6, 16.28, 0.74, 16.28, 0.82, 16.28, 0.89, 16.28, 0.92, 16.28, 1.1,
];

function pairs(flat: number[]): [number, number][] {
  const out: [number, number][] = [];
  for (let i = 0; i + 1 < flat.length; i += 2) out.push([flat[i], flat[i + 1]]);
  return out;
}

const FONT = '"Liberation Sans", Arial, Helvetica, sans-serif';
const SERIF = '"Liberation Serif", "Times New Roman", serif';

function xAxisCfg(gridIndex: number, min: number, max: number, interval: number, pos: 'bottom' | 'top', name?: string) {
  const main = pos === 'bottom';
  return {
    type: 'value', gridIndex, min, max, interval, position: pos,
    name: main ? name : undefined, nameLocation: 'middle', nameGap: 24,
    nameTextStyle: { fontFamily: FONT, fontSize: 13.5, color: TXT },
    axisLine: { show: true, onZero: false, lineStyle: { color: BOX, width: 1 } },
    axisTick: { show: true, inside: true, length: 4, lineStyle: { color: BOX } },
    axisLabel: { show: main, fontFamily: FONT, fontSize: 12.5, color: TXT, margin: 6, showMaxLabel: max % interval === 0 },
    splitLine: { show: false },
  };
}

function yAxisCfg(gridIndex: number, pos: 'left' | 'right') {
  const main = pos === 'left';
  return {
    type: 'value', gridIndex, min: 0, max: 6, interval: 1, position: pos,
    name: main ? yName : undefined, nameLocation: 'middle', nameGap: 18, nameRotate: 90,
    nameTextStyle: { fontFamily: FONT, fontSize: 13.5, color: TXT },
    axisLine: { show: true, onZero: false, lineStyle: { color: BOX, width: 1 } },
    axisTick: { show: true, inside: true, length: 4, lineStyle: { color: BOX } },
    axisLabel: { show: main, fontFamily: FONT, fontSize: 12.5, color: TXT, margin: 6 },
    splitLine: { show: false },
  };
}

function scatter(xi: number, yi: number, flat: number[], size = 3.5) {
  return {
    type: 'scatter', xAxisIndex: xi, yAxisIndex: yi, data: pairs(flat),
    symbol: 'circle', symbolSize: size, itemStyle: { color: BLUE }, silent: true,
    emphasis: { disabled: true },
  };
}

function txt(left: number, top: number, text: string, font: string) {
  return { type: 'text', left, top, style: { text, font, fill: '#000' } };
}

export default function App() {
  const ref = useRef<HTMLDivElement>(null);
  useEffect(() => {
    if (!ref.current) return;
    const chart = echarts.init(ref.current, undefined, { renderer: 'svg' });
    const big = `22px ${SERIF}`;
    const small = `16px ${SERIF}`;
    const it = `italic 22px ${SERIF}`;
    const sub = `italic 16px ${SERIF}`;
    const option: any = {
      animation: false,
      backgroundColor: '#ffffff',
      title: [
        { text: leftTitle, left: 239, top: 2, textAlign: 'center', textStyle: { fontFamily: FONT, fontSize: 13.5, fontWeight: 'bold', color: '#000' } },
        { text: rightTitle, left: 791, top: 2, textAlign: 'center', textStyle: { fontFamily: FONT, fontSize: 13.5, fontWeight: 'bold', color: '#000' } },
      ],
      grid: [
        { left: 38, top: 18, width: 402, height: 318 },
        { left: 590, top: 18, width: 402, height: 318 },
      ],
      xAxis: [
        xAxisCfg(0, 0, 360, 50, 'bottom', leftXName),
        xAxisCfg(0, 0, 360, 50, 'top'),
        xAxisCfg(1, 2, 18, 2, 'bottom', rightXName),
        xAxisCfg(1, 2, 18, 2, 'top'),
      ],
      yAxis: [yAxisCfg(0, 'left'), yAxisCfg(0, 'right'), yAxisCfg(1, 'left'), yAxisCfg(1, 'right')],
      series: [
        {
          type: 'custom', xAxisIndex: 0, yAxisIndex: 0, silent: true, clip: true,
          data: [[coreOutline[0][0], coreOutline[0][1]]],
          renderItem: (_params: any, api: any) => ({
            type: 'polygon',
            shape: { points: coreOutline.map((p) => api.coord(p)) },
            style: { fill: BLUE, stroke: BLUE, lineWidth: 1 },
          }),
        },
        scatter(0, 0, coreEdge),
        scatter(0, 0, spikeTop),
        scatter(0, 0, westPoints),
        scatter(0, 0, eastPoints),
        scatter(0, 0, band100to190),
        scatter(0, 0, band190to246),
        scatter(0, 0, band246to330),
        scatter(0, 0, band330to360),
        scatter(0, 0, upperPoints),
        {
          type: 'custom', xAxisIndex: 2, yAxisIndex: 2, silent: true,
          data: periodRuns,
          renderItem: (_params: any, api: any) => {
            const lo = api.coord([api.value(0), api.value(1)]);
            const hi = api.coord([api.value(0), api.value(2)]);
            return {
              type: 'rect',
              shape: { x: lo[0] - 1.5, y: hi[1] - 1.5, width: 3, height: lo[1] - hi[1] + 3 },
              style: { fill: BLUE },
            };
          },
        },
        scatter(2, 2, periodDots, 3),
      ],
      graphic: [
        txt(117, 390, '(', big), txt(124, 394, 'A', small), txt(137, 390, ')', big),
        txt(153, 390, 'H', it), txt(170, 399, 's', sub),
        txt(188, 390, 'vs wavedirection', big),
        txt(657, 390, '(', big), txt(664, 394, 'B', small), txt(676, 390, ')', big),
        txt(697, 390, 'H', it), txt(714, 399, 's', sub),
        txt(735, 390, 'vs', big), txt(770, 390, 'peak', big), txt(830, 390, 'wave', big),
        txt(886, 390, 'pe-', big), txt(768, 413, 'riod', big),
      ],
    };
    chart.setOption(option);
    return () => chart.dispose();
  }, []);
  return <div ref={ref} style={{ position: 'fixed', left: 0, top: 0, width: 1000, height: 438, background: '#fff' }} />;
}
